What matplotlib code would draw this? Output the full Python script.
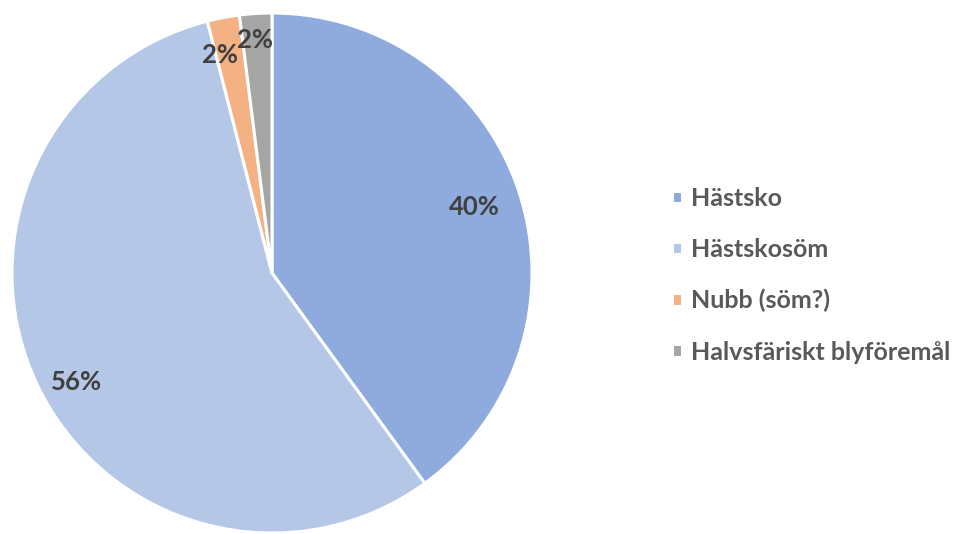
import matplotlib
matplotlib.use("Agg")
import matplotlib.pyplot as plt
import numpy as np

# Fyndkategorier och andelar (%)
categories = ["Hästsko", "Hästskosöm", "Nubb (söm?)", "Halvsfäriskt blyföremål"]
shares = [40, 56, 2, 2]
colors = ["#8FAADC", "#B4C7E7", "#F4B183", "#A5A5A5"]
# label radius and small angular nudge (deg) so the two thin slices' labels don't collide
label_dist = [0.82, 0.86, 0.86, 0.90]
label_nudge = [0, 4, 2.6, 0.5]

plt.rcParams["font.family"] = ["Lato", "DejaVu Sans"]

fig = plt.figure(figsize=(9.56, 5.34), dpi=100, facecolor="white")
ax = fig.add_axes([12 / 956, 1 / 534, 520 / 956, 520 / 534])

wedges, texts, autotexts = ax.pie(
    shares, colors=colors, startangle=90, counterclock=False,
    autopct=lambda p: f"{p:.0f}%", pctdistance=0.85,
    wedgeprops=dict(edgecolor="white", linewidth=2.2),
    textprops=dict(fontsize=18.5, fontweight="bold", color="#404040"),
)

for w, t, d, n in zip(wedges, autotexts, label_dist, label_nudge):
    ang = np.deg2rad((w.theta1 + w.theta2) / 2 + n)
    t.set_position((d * np.cos(ang), d * np.sin(ang)))

ax.set_xlim(-1.0, 1.0)
ax.set_ylim(-1.0, 1.0)
ax.set_aspect("equal")
ax.axis("off")

leg = fig.legend(
    wedges, categories, loc="upper left", bbox_to_anchor=(672 / 956, 1 - 187 / 534),
    frameon=False, fontsize=18, borderpad=0, borderaxespad=0,
    handlelength=0.4, handleheight=0.4, handletextpad=0.36, labelspacing=1.12,
)
for txt in leg.get_texts():
    txt.set_color("#595959")
    txt.set_fontweight("bold")

plt.savefig("out.png", dpi=100, facecolor="white")
plt.close()
